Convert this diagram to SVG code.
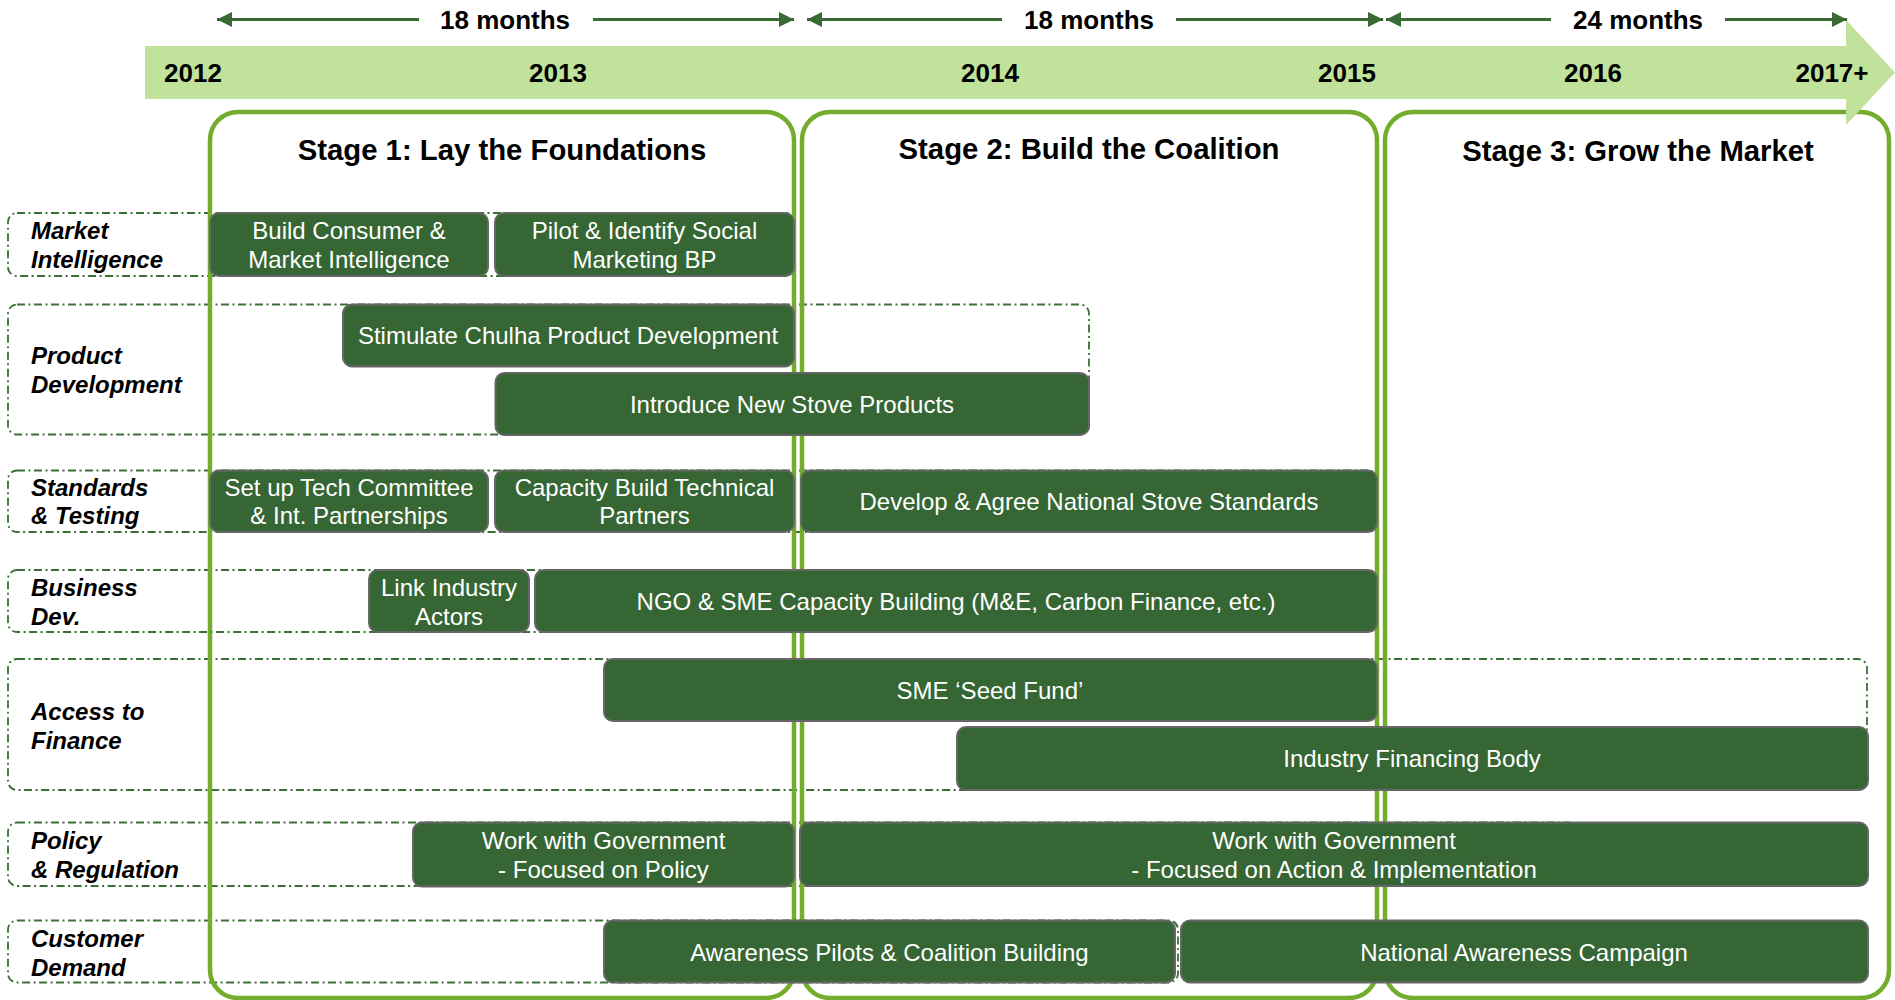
<svg xmlns="http://www.w3.org/2000/svg" width="1895" height="1000" viewBox="0 0 1895 1000">
<defs>
<marker id="ah" viewBox="0 0 15 15" refX="15" refY="7.5" markerWidth="15" markerHeight="15" markerUnits="userSpaceOnUse" orient="auto">
<path d="M0,0 L15,7.5 L0,15 Z" fill="#3A6B35"/>
</marker>
<style>
.cat{fill:none;stroke:#3B7034;stroke-width:1.8;stroke-dasharray:8 3.5 2 3.5}
.stage{fill:none;stroke:#74AD2E;stroke-width:4.5}
.bar{fill:#356633;stroke:#666666;stroke-width:2}
.bt{font-family:"Liberation Sans",Arial,sans-serif;font-size:24px;fill:#ffffff;text-anchor:middle}
.lbl{font-family:"Liberation Sans",Arial,sans-serif;font-size:24px;font-weight:bold;font-style:italic;fill:#000}
.yr{font-family:"Liberation Sans",Arial,sans-serif;font-size:26px;font-weight:bold;fill:#000;text-anchor:middle}
.st{font-family:"Liberation Sans",Arial,sans-serif;font-size:29.3px;font-weight:bold;fill:#000;text-anchor:middle}
.dim{stroke:#3A6B35;stroke-width:3;fill:none;marker-end:url(#ah)}
</style>
</defs>
<rect width="1895" height="1000" fill="#ffffff"/>

<!-- category rows (dashed) -->
<g id="categories">
<rect class="cat" x="8" y="213" width="786" height="63" rx="9"/>
<rect class="cat" x="8" y="304.5" width="1081" height="130" rx="9"/>
<rect class="cat" x="8" y="470.5" width="1369" height="61.5" rx="9"/>
<rect class="cat" x="8" y="570" width="1369" height="62" rx="9"/>
<rect class="cat" x="8" y="659" width="1859" height="131" rx="9"/>
<rect class="cat" x="8" y="822.5" width="1569" height="63.5" rx="9"/>
<rect class="cat" x="8" y="920.5" width="1170" height="62" rx="9"/>
</g>

<!-- stage panels -->
<g id="stage1"><rect class="stage" x="210" y="112" width="584" height="886" rx="28"/><text class="st" x="502" y="160">Stage 1: Lay the Foundations</text></g>
<g id="stage2"><rect class="stage" x="802" y="112" width="575" height="886" rx="28"/><text class="st" x="1089" y="159">Stage 2: Build the Coalition</text></g>
<g id="stage3"><rect class="stage" x="1385" y="112" width="504" height="886" rx="28"/><text class="st" x="1638" y="161">Stage 3: Grow the Market</text></g>

<!-- timeline band -->
<g id="timeline">
<polygon points="145,46 1846,46 1846,20 1895,72.5 1846,125 1846,99 145,99" fill="#C0E29A"/>
<text class="yr" x="193" y="82">2012</text>
<text class="yr" x="558" y="82">2013</text>
<text class="yr" x="990" y="82">2014</text>
<text class="yr" x="1347" y="82">2015</text>
<text class="yr" x="1593" y="82">2016</text>
<text class="yr" x="1832" y="82">2017+</text>
</g>

<!-- duration connectors -->
<g id="connectors">
<line class="dim" x1="419" y1="19.5" x2="217" y2="19.5"/>
<line class="dim" x1="593" y1="19.5" x2="794" y2="19.5"/>
<line class="dim" x1="1002" y1="19.5" x2="807" y2="19.5"/>
<line class="dim" x1="1176" y1="19.5" x2="1383" y2="19.5"/>
<line class="dim" x1="1551" y1="19.5" x2="1386" y2="19.5"/>
<line class="dim" x1="1725" y1="19.5" x2="1847" y2="19.5"/>
<text class="yr" x="505" y="29">18 months</text>
<text class="yr" x="1089" y="29">18 months</text>
<text class="yr" x="1638" y="29">24 months</text>
</g>

<!-- category labels -->
<g id="labels">
<text class="lbl" x="31" y="239">Market</text>
<text class="lbl" x="31" y="268">Intelligence</text>
<text class="lbl" x="31" y="364">Product</text>
<text class="lbl" x="31" y="393">Development</text>
<text class="lbl" x="31" y="496">Standards</text>
<text class="lbl" x="31" y="524">&amp; Testing</text>
<text class="lbl" x="31" y="596">Business</text>
<text class="lbl" x="31" y="625">Dev.</text>
<text class="lbl" x="31" y="720">Access to</text>
<text class="lbl" x="31" y="749">Finance</text>
<text class="lbl" x="31" y="849">Policy</text>
<text class="lbl" x="31" y="878">&amp; Regulation</text>
<text class="lbl" x="31" y="947">Customer</text>
<text class="lbl" x="31" y="976">Demand</text>
</g>

<!-- activity bars -->
<g id="bar-build-consumer"><rect class="bar" x="210" y="213" width="278" height="63" rx="9"/><text class="bt" x="349" y="239">Build Consumer &amp;</text><text class="bt" x="349" y="268">Market Intelligence</text></g>
<g id="bar-pilot"><rect class="bar" x="495" y="213" width="299" height="63" rx="9"/><text class="bt" x="644.5" y="239">Pilot &amp; Identify Social</text><text class="bt" x="644.5" y="268">Marketing BP</text></g>
<g id="bar-chulha"><rect class="bar" x="343" y="304.5" width="451" height="62" rx="9"/><text class="bt" x="568" y="344">Stimulate Chulha Product Development</text></g>
<g id="bar-stove"><rect class="bar" x="495.5" y="373" width="593.5" height="62" rx="9"/><text class="bt" x="792" y="413">Introduce New Stove Products</text></g>
<g id="bar-tech"><rect class="bar" x="210" y="470.5" width="278" height="61.5" rx="9"/><text class="bt" x="349" y="496">Set up Tech Committee</text><text class="bt" x="349" y="524">&amp; Int. Partnerships</text></g>
<g id="bar-capacity"><rect class="bar" x="495" y="470.5" width="299" height="61.5" rx="9"/><text class="bt" x="644.5" y="496">Capacity Build Technical</text><text class="bt" x="644.5" y="524">Partners</text></g>
<g id="bar-standards"><rect class="bar" x="801" y="470.5" width="576" height="61.5" rx="9"/><text class="bt" x="1089" y="510">Develop &amp; Agree National Stove Standards</text></g>
<g id="bar-link"><rect class="bar" x="369" y="570" width="160" height="62" rx="9"/><text class="bt" x="449" y="596">Link Industry</text><text class="bt" x="449" y="625">Actors</text></g>
<g id="bar-ngo"><rect class="bar" x="535" y="570" width="842" height="62" rx="9"/><text class="bt" x="956" y="610">NGO &amp; SME Capacity Building (M&amp;E, Carbon Finance, etc.)</text></g>
<g id="bar-seed"><rect class="bar" x="604" y="659" width="773" height="62" rx="9"/><text class="bt" x="990" y="699">SME ‘Seed Fund’</text></g>
<g id="bar-ifb"><rect class="bar" x="957" y="727" width="911" height="63" rx="9"/><text class="bt" x="1412" y="767">Industry Financing Body</text></g>
<g id="bar-gov-policy"><rect class="bar" x="413" y="822.5" width="381" height="64" rx="9"/><text class="bt" x="603.5" y="849">Work with Government</text><text class="bt" x="603.5" y="878">- Focused on Policy</text></g>
<g id="bar-gov-action"><rect class="bar" x="800" y="822.5" width="1068" height="63.5" rx="9"/><text class="bt" x="1334" y="849">Work with Government</text><text class="bt" x="1334" y="878">- Focused on Action &amp; Implementation</text></g>
<g id="bar-awareness"><rect class="bar" x="604" y="920.5" width="571" height="62" rx="9"/><text class="bt" x="889.5" y="961">Awareness Pilots &amp; Coalition Building</text></g>
<g id="bar-national"><rect class="bar" x="1181" y="920.5" width="687" height="62" rx="9"/><text class="bt" x="1524" y="961">National Awareness Campaign</text></g>
</svg>
